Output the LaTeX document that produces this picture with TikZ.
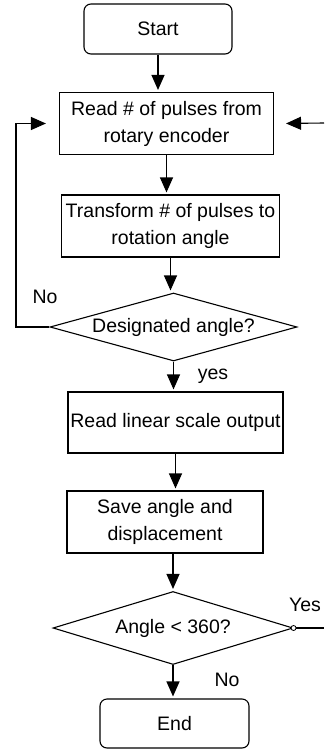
\documentclass[tikz,border=0pt]{standalone}
\usepackage{fontspec}
\setmainfont{Liberation Sans}
\usepackage{tikz}
\usetikzlibrary{positioning,arrows.meta,shapes.geometric,calc}
\newcommand{\flowfont}{\fontsize{19.5}{27}\selectfont}
\tikzset{
  node-box/.style={draw,line width=1.1pt,minimum width=215pt,minimum height=62pt,
    align=center,inner sep=4pt,font=\flowfont},
  node-term/.style={node-box,rounded corners=7pt,minimum width=148pt,minimum height=50pt},
  node-dec/.style={draw,line width=1.1pt,diamond,aspect=3.6,inner sep=0pt,font=\flowfont},
  arrow/.style={-{Triangle[length=15pt,width=13pt]},line width=1.1pt,shorten >=2pt},
  plain-line/.style={line width=1.1pt},
  node-lbl/.style={font=\flowfont},
}

\begin{document}
\begin{tikzpicture}[x=1pt,y=-1pt]
  \useasboundingbox (0,0) rectangle (324,749);
  % blocks
  \node[node-term] (start) at (158,29) {Start};
  \node[node-box,minimum width=214pt] (read) at (166.5,123.5) {Read \# of pulses from\\rotary encoder};
  \node[node-box] (trans) at (170.5,226) {Transform \# of pulses to\\rotation angle};
  \node[node-dec,minimum width=247pt,minimum height=68pt] (desig) at (173.5,327) {Designated angle?};
  \node[node-box,minimum height=61pt,inner xsep=1pt] (readlin) at (175.5,422.5) {Read linear scale output};
  \node[node-box,minimum width=196pt] (save) at (165,522) {Save angle and\\displacement};
  \node[node-dec,minimum width=240pt,minimum height=73pt] (angle) at (173,628) {Angle < 360?};
  \node[node-term,minimum width=149pt,minimum height=49pt] (end) at (174.5,723.5) {End};
  % main flow
  \draw[arrow] (start.south) -- (start.south |- read.north);
  \draw[arrow] (read.south) -- (read.south |- trans.north);
  \draw[arrow] (trans.south) -- (trans.south |- desig.north);
  \draw[arrow] (desig.south) -- (desig.south |- readlin.north);
  \draw[arrow] (readlin.south) -- (readlin.south |- save.north);
  \draw[arrow] (save.south -| angle.north) -- (angle.north);
  \draw[arrow] (angle.south) -- (angle.south |- end.north);
  % loops
  \coordinate (loop-left) at (16,327);
  \draw[arrow] (desig.west) -- (loop-left) |- ([xshift=-11pt]read.west);
  \coordinate (back-in) at (324,123);
  \draw[arrow] (back-in) -- ([xshift=10pt]read.east);
  \coordinate (yes-out) at (324,628);
  \draw[plain-line] (angle.east) -- (yes-out);
  \draw[line width=0.8pt,fill=white] (angle.east) circle (2.5pt);
  % labels
  \node[node-lbl] (lbl-no1) at (45,297) {No};
  \node[node-lbl] (lbl-yes1) at (213,376) {yes};
  \node[node-lbl] (lbl-yes2) at (305,605) {Yes};
  \node[node-lbl] (lbl-no2) at (227,680) {No};
\end{tikzpicture}
\end{document}
